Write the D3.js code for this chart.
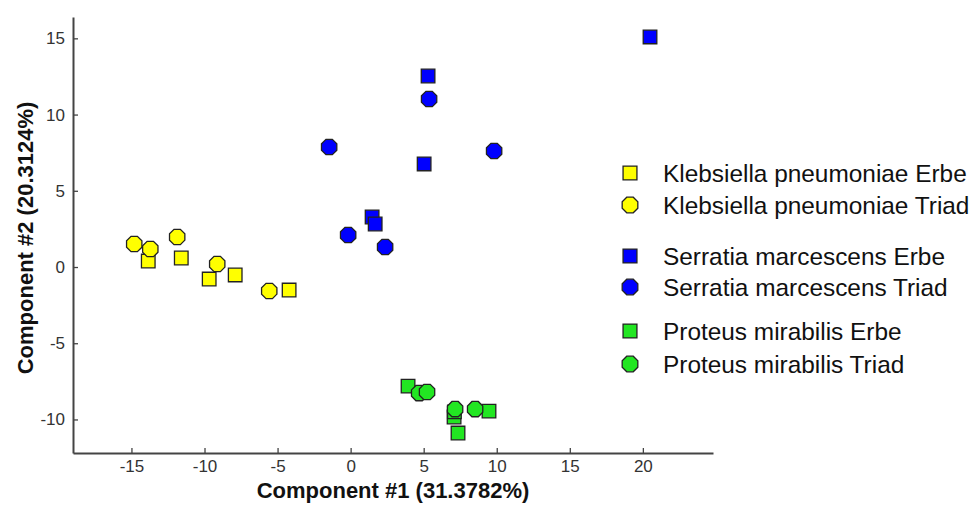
<!DOCTYPE html>
<html lang="en">
  <head>
    <meta charset="UTF-8" />
    <title>PCA scores</title>
    <script src="https://d3js.org/d3.v7.min.js"></script>
    <style>
      body {
        margin: 0;
        background: #fff;
      }
      .tick text {
        font: 17px "Liberation Sans", Arial, sans-serif;
        fill: #333;
      }
      .axis-label {
        font: bold 22px "Liberation Sans", Arial, sans-serif;
        fill: #111;
      }
      .legend text {
        font: 24.4px "Liberation Sans", Arial, sans-serif;
        fill: #111;
      }
    </style>
  </head>
  <body>
    <svg width="975" height="505"></svg>
    <script>
      // Data, [component 1, component 2]
      var klebErbe = [[-13.85, 0.39], [-11.59, 0.59], [-9.68, -0.79], [-7.9, -0.52], [-4.21, -1.51]];
      var klebTriad = [[-14.81, 1.51], [-13.71, 1.18], [-11.87, 1.97], [-9.13, 0.2], [-5.57, -1.57]];
      var serrErbe = [[20.49, 15.09], [5.3, 12.53], [5.03, 6.76], [1.47, 3.28], [1.68, 2.82]];
      var serrTriad = [[-1.47, 7.87], [-0.17, 2.1], [2.36, 1.31], [5.37, 11.02], [9.82, 7.61]];
      var protErbe = [[3.93, -7.81], [7.08, -9.84], [7.35, -10.89], [9.47, -9.45], [7.1, -9.5]];
      var protTriad = [[4.69, -8.27], [5.23, -8.2], [7.15, -9.32], [8.52, -9.32]];

      var seriesNames = [
        "Klebsiella pneumoniae Erbe",
        "Klebsiella pneumoniae Triad",
        "Serratia marcescens Erbe",
        "Serratia marcescens Triad",
        "Proteus mirabilis Erbe",
        "Proteus mirabilis Triad",
      ];
      var seriesData = [klebErbe, klebTriad, serrErbe, serrTriad, protErbe, protTriad];
      var seriesShape = ["square", "octagon", "square", "octagon", "square", "octagon"];
      var seriesColor = ["#ffff00", "#ffff00", "#0000ff", "#0000ff", "#22e622", "#22e622"];

      var xTicks = [-15, -10, -5, 0, 5, 10, 15, 20];
      var yTicks = [-10, -5, 0, 5, 10, 15];

      var svg = d3.select("svg");
      var margin = { left: 73, top: 17 },
        width = 640,
        height = 436;

      var x = d3.scaleLinear().domain([-19, 24.8]).range([0, width]);
      var y = d3.scaleLinear().domain([-12.2, 16.4]).range([height, 0]);

      var g = svg
        .append("g")
        .attr("transform", "translate(" + margin.left + "," + margin.top + ")");

      // marker paths: square side ~13.5, octagon circumradius ~8
      function markerPath(shape, s) {
        if (shape === "square") {
          var h = 6.8 * s;
          return "M" + -h + "," + -h + "H" + h + "V" + h + "H" + -h + "Z";
        }
        var r = 8.3 * s,
          pts = [];
        for (var k = 0; k < 8; k++) {
          var a = Math.PI / 8 + (k * Math.PI) / 4;
          pts.push([r * Math.cos(a), r * Math.sin(a)]);
        }
        return d3.line()(pts) + "Z";
      }

      // plain hyphen minus like the original
      var fmt = function (d) {
        return String(d);
      };

      // axes (ticks inward, no box)
      var xAxis = g
        .append("g")
        .attr("transform", "translate(0," + height + ")")
        .call(d3.axisBottom(x).tickValues(xTicks).tickFormat(fmt).tickSizeInner(-5).tickSizeOuter(0).tickPadding(7));
      var yAxis = g
        .append("g")
        .call(d3.axisLeft(y).tickValues(yTicks).tickFormat(fmt).tickSizeInner(-5).tickSizeOuter(0).tickPadding(8));

      [xAxis, yAxis].forEach(function (ax) {
        ax.select(".domain").attr("stroke", "#444").attr("stroke-width", 2);
        ax.selectAll(".tick line").attr("stroke", "#444").attr("stroke-width", 1.3);
      });

      // points
      seriesData.forEach(function (pts, i) {
        g.append("g")
          .selectAll("path")
          .data(pts)
          .enter()
          .append("path")
          .attr("d", markerPath(seriesShape[i], 1))
          .attr("transform", function (d) {
            return "translate(" + x(d[0]) + "," + y(d[1]) + ")";
          })
          .attr("fill", seriesColor[i])
          .attr("stroke", "#222")
          .attr("stroke-width", 1.3);
      });

      // axis labels
      svg
        .append("text")
        .attr("class", "axis-label")
        .attr("x", margin.left + width / 2)
        .attr("y", 498)
        .attr("text-anchor", "middle")
        .text("Component #1 (31.3782%)");
      svg
        .append("text")
        .attr("class", "axis-label")
        .attr("transform", "translate(33,238) rotate(-90)")
        .attr("text-anchor", "middle")
        .text("Component #2 (20.3124%)");

      // legend
      var legendY = [173, 205, 256, 287, 331, 364];
      var legend = svg.append("g").attr("class", "legend");
      seriesNames.forEach(function (name, i) {
        legend
          .append("path")
          .attr("d", markerPath(seriesShape[i], 1.02))
          .attr("transform", "translate(630," + legendY[i] + ")")
          .attr("fill", seriesColor[i])
          .attr("stroke", "#222")
          .attr("stroke-width", 1.3);
        legend
          .append("text")
          .attr("x", 663)
          .attr("y", legendY[i])
          .attr("dy", "0.36em")
          .text(name);
      });
    </script>
  </body>
</html>
